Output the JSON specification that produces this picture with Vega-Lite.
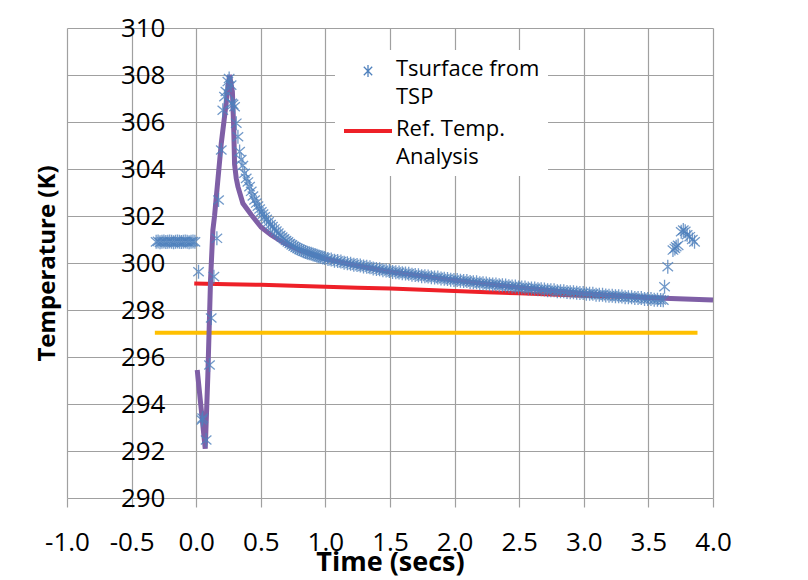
{
  "$schema": "https://vega.github.io/schema/vega-lite/v6.json",
  "width": 646,
  "height": 470,
  "autosize": {"type": "none"},
  "padding": {"left": 67, "top": 28, "right": 95, "bottom": 82},
  "background": "white",
  "config": {
    "view": {"stroke": null},
    "axis": {
      "labelFont": "Open Sans",
      "labelFontSize": 26,
      "labelColor": "#000000",
      "titleFont": "Open Sans",
      "titleFontWeight": "bold",
      "titleColor": "#000000",
      "gridColor": "#A0A0A0",
      "gridWidth": 1.2,
      "domain": false
    }
  },
  "datasets": {
    "tsp": [
      {"t": -0.31, "T": 300.9}, {"t": -0.295, "T": 300.92}, {"t": -0.28, "T": 300.88}, {"t": -0.265, "T": 300.9},
      {"t": -0.25, "T": 300.91}, {"t": -0.235, "T": 300.89}, {"t": -0.22, "T": 300.9}, {"t": -0.205, "T": 300.92},
      {"t": -0.19, "T": 300.9}, {"t": -0.175, "T": 300.88}, {"t": -0.16, "T": 300.9}, {"t": -0.145, "T": 300.91},
      {"t": -0.13, "T": 300.9}, {"t": -0.115, "T": 300.89}, {"t": -0.1, "T": 300.9}, {"t": -0.085, "T": 300.92},
      {"t": -0.07, "T": 300.9}, {"t": -0.055, "T": 300.88}, {"t": -0.04, "T": 300.9}, {"t": -0.025, "T": 300.91},
      {"t": -0.01, "T": 300.9},
      {"t": 0.018, "T": 299.63}, {"t": 0.044, "T": 293.32}, {"t": 0.05, "T": 293.4}, {"t": 0.077, "T": 292.47},
      {"t": 0.103, "T": 295.66}, {"t": 0.116, "T": 297.66}, {"t": 0.137, "T": 299.42}, {"t": 0.16, "T": 301.05},
      {"t": 0.173, "T": 302.68}, {"t": 0.194, "T": 304.81}, {"t": 0.206, "T": 306.5}, {"t": 0.219, "T": 307.08},
      {"t": 0.23, "T": 307.3}, {"t": 0.245, "T": 307.72}, {"t": 0.255, "T": 307.85}, {"t": 0.27, "T": 307.57},
      {"t": 0.275, "T": 306.8}, {"t": 0.285, "T": 306.75},
      {"t": 0.297, "T": 306.65}, {"t": 0.31, "T": 305.95}, {"t": 0.323, "T": 305.37}, {"t": 0.336, "T": 304.74},
      {"t": 0.348, "T": 304.4}, {"t": 0.361, "T": 304.15}, {"t": 0.374, "T": 303.82}, {"t": 0.387, "T": 303.6},
      {"t": 0.4, "T": 303.45}, {"t": 0.413, "T": 303.25}, {"t": 0.426, "T": 303.05}, {"t": 0.439, "T": 302.85},
      {"t": 0.452, "T": 302.68}, {"t": 0.465, "T": 302.55}, {"t": 0.478, "T": 302.42}, {"t": 0.491, "T": 302.3},
      {"t": 0.504, "T": 302.18}, {"t": 0.517, "T": 302.08}, {"t": 0.53, "T": 301.97}, {"t": 0.545, "T": 301.86},
      {"t": 0.56, "T": 301.75}, {"t": 0.575, "T": 301.64}, {"t": 0.59, "T": 301.55}, {"t": 0.605, "T": 301.45},
      {"t": 0.62, "T": 301.36}, {"t": 0.635, "T": 301.27}, {"t": 0.65, "T": 301.18}, {"t": 0.665, "T": 301.1},
      {"t": 0.68, "T": 301.03}, {"t": 0.695, "T": 300.96}, {"t": 0.71, "T": 300.9}, {"t": 0.725, "T": 300.83},
      {"t": 0.74, "T": 300.77}, {"t": 0.755, "T": 300.71}, {"t": 0.77, "T": 300.66}, {"t": 0.785, "T": 300.62},
      {"t": 0.8, "T": 300.58}, {"t": 0.815, "T": 300.54}, {"t": 0.83, "T": 300.5}, {"t": 0.845, "T": 300.47},
      {"t": 0.86, "T": 300.44}, {"t": 0.875, "T": 300.41}, {"t": 0.89, "T": 300.39}, {"t": 0.905, "T": 300.36},
      {"t": 0.92, "T": 300.34}, {"t": 0.935, "T": 300.31}, {"t": 0.95, "T": 300.28}, {"t": 0.965, "T": 300.26},
      {"t": 0.98, "T": 300.23}, {"t": 0.995, "T": 300.21}, {"t": 1.02, "T": 300.17}, {"t": 1.045, "T": 300.15},
      {"t": 1.07, "T": 300.1}, {"t": 1.095, "T": 300.08}, {"t": 1.12, "T": 300.06}, {"t": 1.145, "T": 300.01},
      {"t": 1.17, "T": 299.99}, {"t": 1.195, "T": 299.97}, {"t": 1.22, "T": 299.93}, {"t": 1.245, "T": 299.91},
      {"t": 1.27, "T": 299.89}, {"t": 1.295, "T": 299.85}, {"t": 1.32, "T": 299.84}, {"t": 1.345, "T": 299.82},
      {"t": 1.37, "T": 299.77}, {"t": 1.395, "T": 299.75}, {"t": 1.42, "T": 299.73}, {"t": 1.445, "T": 299.69},
      {"t": 1.47, "T": 299.68}, {"t": 1.495, "T": 299.66}, {"t": 1.52, "T": 299.62}, {"t": 1.545, "T": 299.61},
      {"t": 1.57, "T": 299.6}, {"t": 1.595, "T": 299.56}, {"t": 1.62, "T": 299.55}, {"t": 1.645, "T": 299.54},
      {"t": 1.67, "T": 299.5}, {"t": 1.695, "T": 299.49}, {"t": 1.72, "T": 299.48}, {"t": 1.745, "T": 299.44},
      {"t": 1.77, "T": 299.44}, {"t": 1.795, "T": 299.43}, {"t": 1.82, "T": 299.39}, {"t": 1.845, "T": 299.38},
      {"t": 1.87, "T": 299.38}, {"t": 1.895, "T": 299.34}, {"t": 1.92, "T": 299.33}, {"t": 1.945, "T": 299.32},
      {"t": 1.97, "T": 299.29}, {"t": 1.995, "T": 299.28}, {"t": 2.02, "T": 299.28}, {"t": 2.045, "T": 299.24},
      {"t": 2.07, "T": 299.23}, {"t": 2.095, "T": 299.23}, {"t": 2.12, "T": 299.19}, {"t": 2.145, "T": 299.18},
      {"t": 2.17, "T": 299.18}, {"t": 2.195, "T": 299.14}, {"t": 2.22, "T": 299.14}, {"t": 2.245, "T": 299.13},
      {"t": 2.27, "T": 299.1}, {"t": 2.295, "T": 299.09}, {"t": 2.32, "T": 299.09}, {"t": 2.345, "T": 299.05},
      {"t": 2.37, "T": 299.05}, {"t": 2.395, "T": 299.04}, {"t": 2.42, "T": 299.01}, {"t": 2.445, "T": 299.0},
      {"t": 2.47, "T": 299.0}, {"t": 2.495, "T": 298.96}, {"t": 2.52, "T": 298.96}, {"t": 2.545, "T": 298.96},
      {"t": 2.57, "T": 298.92}, {"t": 2.595, "T": 298.92}, {"t": 2.62, "T": 298.92}, {"t": 2.645, "T": 298.88},
      {"t": 2.67, "T": 298.88}, {"t": 2.695, "T": 298.87}, {"t": 2.72, "T": 298.84}, {"t": 2.745, "T": 298.84},
      {"t": 2.77, "T": 298.84}, {"t": 2.795, "T": 298.8}, {"t": 2.82, "T": 298.8}, {"t": 2.845, "T": 298.8},
      {"t": 2.87, "T": 298.77}, {"t": 2.895, "T": 298.76}, {"t": 2.92, "T": 298.76}, {"t": 2.945, "T": 298.73},
      {"t": 2.97, "T": 298.72}, {"t": 2.995, "T": 298.72}, {"t": 3.02, "T": 298.69}, {"t": 3.045, "T": 298.69},
      {"t": 3.07, "T": 298.69}, {"t": 3.095, "T": 298.65}, {"t": 3.12, "T": 298.65}, {"t": 3.145, "T": 298.65},
      {"t": 3.17, "T": 298.62}, {"t": 3.195, "T": 298.61}, {"t": 3.22, "T": 298.61}, {"t": 3.245, "T": 298.58},
      {"t": 3.27, "T": 298.58}, {"t": 3.295, "T": 298.57}, {"t": 3.32, "T": 298.54}, {"t": 3.345, "T": 298.54},
      {"t": 3.37, "T": 298.54}, {"t": 3.395, "T": 298.51}, {"t": 3.42, "T": 298.51}, {"t": 3.445, "T": 298.51},
      {"t": 3.47, "T": 298.47}, {"t": 3.495, "T": 298.47}, {"t": 3.52, "T": 298.47}, {"t": 3.545, "T": 298.44},
      {"t": 3.57, "T": 298.44}, {"t": 3.595, "T": 298.43}, {"t": 3.615, "T": 298.42},
      {"t": 3.625, "T": 298.99}, {"t": 3.65, "T": 299.84}, {"t": 3.69, "T": 300.55}, {"t": 3.705, "T": 300.62},
      {"t": 3.715, "T": 300.69}, {"t": 3.73, "T": 300.75}, {"t": 3.754, "T": 301.33}, {"t": 3.77, "T": 301.4},
      {"t": 3.785, "T": 301.35}, {"t": 3.8, "T": 301.2}, {"t": 3.82, "T": 301.12}, {"t": 3.84, "T": 301.0},
      {"t": 3.857, "T": 300.9}
    ],
    "purple": [
      {"t": 0.008, "T": 295.45}, {"t": 0.07, "T": 292.1}, {"t": 0.09, "T": 295.2}, {"t": 0.111, "T": 299.28},
      {"t": 0.129, "T": 301.4}, {"t": 0.142, "T": 302.0}, {"t": 0.194, "T": 305.09}, {"t": 0.232, "T": 306.8},
      {"t": 0.258, "T": 308.0}, {"t": 0.28, "T": 307.3}, {"t": 0.29, "T": 305.8}, {"t": 0.297, "T": 304.2},
      {"t": 0.31, "T": 303.6}, {"t": 0.323, "T": 303.25}, {"t": 0.361, "T": 302.54}, {"t": 0.426, "T": 302.05},
      {"t": 0.503, "T": 301.52}, {"t": 0.58, "T": 301.19}, {"t": 0.684, "T": 300.84}, {"t": 0.8, "T": 300.55},
      {"t": 1.0, "T": 300.17}, {"t": 1.25, "T": 299.88}, {"t": 1.5, "T": 299.63}, {"t": 2.0, "T": 299.27},
      {"t": 2.5, "T": 298.96}, {"t": 3.0, "T": 298.7}, {"t": 3.5, "T": 298.52}, {"t": 3.62, "T": 298.5},
      {"t": 4.0, "T": 298.43}
    ],
    "ref": [
      {"t": -0.015, "T": 299.13}, {"t": 0.25, "T": 299.1}, {"t": 0.5, "T": 299.07}, {"t": 0.75, "T": 299.03},
      {"t": 1.0, "T": 298.99}, {"t": 1.25, "T": 298.95}, {"t": 1.5, "T": 298.91}, {"t": 1.75, "T": 298.86},
      {"t": 2.0, "T": 298.81}, {"t": 2.25, "T": 298.76}, {"t": 2.5, "T": 298.71}, {"t": 2.75, "T": 298.66},
      {"t": 3.0, "T": 298.61}, {"t": 3.3, "T": 298.56}
    ],
    "orange": [
      {"t": -0.32, "T": 297.03}, {"t": 3.88, "T": 297.03}
    ]
  },
  "encoding": {
    "x": {
      "field": "t", "type": "quantitative",
      "scale": {"domain": [-1, 4], "nice": false, "zero": false},
      "axis": {
        "values": [-1, -0.5, 0, 0.5, 1, 1.5, 2, 2.5, 3, 3.5, 4],
        "labelExpr": "datum.value < 0 ? '-' + format(-datum.value, '.1f') : format(datum.value, '.1f')",
        "labelOverlap": false,
        "labelBound": false,
        "labelFlush": false,
        "title": "Time (secs)",
        "titleFontSize": 27,
        "titleX": 323,
        "titleY": 64,
        "titleBaseline": "middle",
        "ticks": true,
        "tickSize": 9,
        "tickColor": "#A0A0A0",
        "tickWidth": 1.2,
        "labelPadding": 22,
        "labelBaseline": "top"
      }
    },
    "y": {
      "field": "T", "type": "quantitative",
      "scale": {"domain": [290, 310], "nice": false, "zero": false},
      "axis": {
        "values": [290, 292, 294, 296, 298, 300, 302, 304, 306, 308, 310],
        "labelOverlap": false,
        "labelFlush": false,
        "title": "Temperature (K)",
        "titleFontSize": 24,
        "offset": -128,
        "ticks": false,
        "labelPadding": 30,
        "titleX": -148,
        "titleY": 235,
        "titleAngle": -90,
        "titleBaseline": "middle",
        "titleAlign": "center"
      }
    }
  },
  "layer": [
    {
      "data": {"name": "orange"},
      "mark": {"type": "line", "color": "#FFC000", "strokeWidth": 4}
    },
    {
      "data": {"name": "ref"},
      "mark": {"type": "line", "strokeWidth": 4},
      "encoding": {
        "color": {
          "datum": "Ref. Temp. Analysis",
          "scale": {"domain": ["Tsurface from TSP", "Ref. Temp. Analysis"], "range": ["#4F81BD", "#EE2028"]},
          "legend": {
            "orient": "none",
            "legendX": 268,
            "legendY": 22,
            "title": null,
            "fillColor": "white",
            "padding": 8,
            "labelFont": "Open Sans",
            "labelFontSize": 22,
            "labelColor": "#000000",
            "labelLimit": 400,
            "labelBaseline": "alphabetic",
            "symbolSize": 144,
            "rowPadding": 10,
            "labelExpr": "datum.label == 'Tsurface from TSP' ? ['Tsurface from', 'TSP'] : ['Ref. Temp.', 'Analysis']",
            "encode": {
              "symbols": {
                "update": {
                  "x": {"value": 25},
                  "y": {"value": 13},
                  "shape": {"signal": "datum.value == 'Ref. Temp. Analysis' ? 'M-4,0L4,0' : 'M0,-1L0,1M-0.7,-0.7L0.7,0.7M-0.7,0.7L0.7,-0.7'"},
                  "size": {"value": 144},
                  "strokeWidth": {"signal": "datum.value == 'Ref. Temp. Analysis' ? 4 : 1.3"},
                  "fill": {"value": "transparent"},
                  "opacity": {"value": 1}
                }
              },
              "labels": {
                "update": {
                  "x": {"value": 53},
                  "y": {"value": 18},
                  "lineHeight": {"value": 28}
                }
              }
            }
          }
        }
      }
    },
    {
      "data": {"name": "purple"},
      "mark": {"type": "line", "color": "#7F5FA6", "strokeWidth": 5}
    },
    {
      "data": {"name": "tsp"},
      "mark": {
        "type": "point",
        "filled": false,
        "shape": "M0,-1L0,1M-0.75,-0.65L0.75,0.65M-0.75,0.65L0.75,-0.65",
        "size": 196,
        "strokeWidth": 1.3,
        "opacity": 0.8
      },
      "encoding": {
        "color": {"datum": "Tsurface from TSP"}
      }
    }
  ]
}
